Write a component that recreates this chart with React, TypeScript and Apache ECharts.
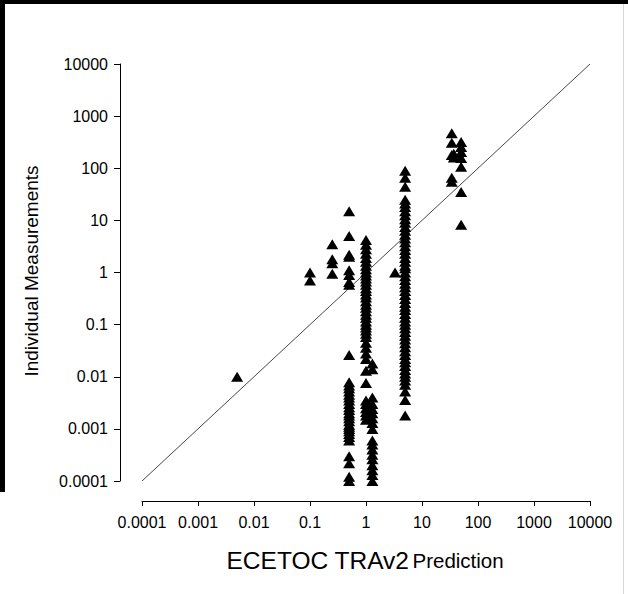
import React, { useEffect, useRef } from "react";
import * as echarts from "echarts";

// Tick labels (log decades)
const xTickLabels = ["0.0001", "0.001", "0.01", "0.1", "1", "10", "100", "1000", "10000"];
const yTickLabels = ["0.0001", "0.001", "0.01", "0.1", "1", "10", "100", "1000", "10000"];

// ECETOC TRAv2 predictions (x of each column)
const predictionGroups = [0.005, 0.1, 0.25, 0.5, 1.0, 1.3, 3.3, 5.0, 34, 37, 50];

// Individual measurements for each prediction group
const measurementGroups: number[][] = [
  [0.01],
  [1.0, 0.7],
  [3.5, 1.8, 1.5, 0.95],
  [15, 5, 2.2, 2.0, 1.1, 0.9, 0.66, 0.58,
    0.026, 0.0078, 0.0068, 0.006, 0.0052, 0.0045, 0.004, 0.0035, 0.003, 0.0026, 0.0023, 0.002,
    0.0018, 0.0016, 0.0014, 0.0012, 0.0011, 0.001, 0.0009, 0.0008, 0.0007, 0.0006,
    0.0003, 0.00022, 0.00012, 0.0001],
  [4.2, 3.4, 2.8, 2.3, 1.9, 1.6, 1.35, 1.15, 1.0, 0.88, 0.77, 0.67, 0.58, 0.5, 0.44, 0.38,
    0.33, 0.28, 0.24, 0.21, 0.18, 0.155, 0.135, 0.115, 0.1, 0.088, 0.077, 0.067, 0.058,
    0.045, 0.036, 0.028, 0.022, 0.013, 0.0076, 0.0035, 0.003, 0.0025, 0.0021, 0.0018, 0.0015],
  [0.018, 0.014, 0.004, 0.003, 0.0024, 0.002, 0.0016, 0.0013, 0.001,
    0.0006, 0.0005, 0.0004, 0.00032, 0.00026, 0.0002, 0.00016, 0.00013, 0.0001],
  [1.0],
  [90, 66, 44,
    25, 21, 18, 15, 12.5, 10.5, 9, 7.5, 6.3, 5.3, 4.5, 3.8, 3.2, 2.7, 2.3, 1.9, 1.6, 1.35, 1.2,
    1.0, 0.85, 0.72, 0.61, 0.52, 0.44, 0.37, 0.31, 0.26, 0.22, 0.19, 0.16, 0.135, 0.115, 0.1,
    0.085, 0.072, 0.061, 0.052, 0.044, 0.037, 0.031, 0.026, 0.022, 0.019, 0.016, 0.0135,
    0.0115, 0.01, 0.0085, 0.007, 0.0052, 0.0036, 0.0018],
  [470, 310, 180, 66, 55],
  [190, 160],
  [320, 255, 205, 158, 107, 35, 8.2],
];

const diagonal = [
  [0.0001, 0.0001],
  [10000, 10000],
];

const FONT = "Liberation Sans, Arial, sans-serif";

export default function App() {
  const ref = useRef<HTMLDivElement>(null);

  useEffect(() => {
    document.body.style.margin = "0";
    if (!ref.current) return;
    const chart = echarts.init(ref.current, undefined, { renderer: "svg" });

    const points: number[][] = [];
    predictionGroups.forEach((x, i) => {
      measurementGroups[i].forEach((y) => points.push([x, y]));
    });

    const labelFor = (labels: string[]) => (v: number) => {
      const idx = Math.round(Math.log10(v)) + 4;
      return labels[idx] ?? "";
    };

    chart.setOption({
      animation: false,
      backgroundColor: "#ffffff",
      grid: { left: 142, right: 38, top: 64, bottom: 113, containLabel: false },
      xAxis: {
        type: "log",
        logBase: 10,
        min: 0.0001,
        max: 10000,
        interval: 1,
        offset: 20,
        splitLine: { show: false },
        axisLine: { show: true, lineStyle: { color: "#000", width: 1 } },
        axisTick: { show: true, inside: false, length: 5, lineStyle: { color: "#000" } },
        minorTick: { show: false },
        axisLabel: {
          formatter: labelFor(xTickLabels),
          color: "#000",
          fontFamily: FONT,
          fontSize: 16,
          margin: 13,
        },
      },
      yAxis: {
        type: "log",
        logBase: 10,
        min: 0.0001,
        max: 10000,
        interval: 1,
        offset: 22,
        splitLine: { show: false },
        axisLine: { show: true, lineStyle: { color: "#000", width: 1 } },
        axisTick: { show: true, inside: false, length: 6, lineStyle: { color: "#000" } },
        axisLabel: {
          formatter: labelFor(yTickLabels),
          color: "#000",
          fontFamily: FONT,
          fontSize: 16,
          margin: 12,
        },
      },
      series: [
        {
          type: "line",
          data: diagonal,
          symbol: "none",
          lineStyle: { color: "#333", width: 0.9 },
          silent: true,
          z: 1,
        },
        {
          type: "scatter",
          data: points,
          symbol: "triangle",
          symbolSize: [12, 10],
          itemStyle: { color: "#000", opacity: 1 },
          z: 2,
        },
      ],
      graphic: [
        { type: "rect", shape: { x: 0, y: 0, width: 628, height: 4 }, style: { fill: "#000" } },
        { type: "rect", shape: { x: 0, y: 0, width: 5, height: 492 }, style: { fill: "#000" } },
        {
          type: "line",
          shape: { x1: 623.5, y1: 4, x2: 623.5, y2: 594 },
          style: { stroke: "#d8d8d8", lineWidth: 1 },
        },
        {
          type: "text",
          x: 31,
          y: 271,
          rotation: Math.PI / 2,
          style: {
            text: "Individual Measurements",
            fill: "#000",
            font: `19px ${FONT}`,
            align: "center",
            verticalAlign: "middle",
          },
        },
        {
          type: "text",
          x: 365,
          y: 560,
          style: {
            text: "{a|ECETOC TRAv2} {b|Prediction}",
            align: "center",
            verticalAlign: "middle",
            rich: {
              a: { fontSize: 24.5, fontFamily: FONT, fill: "#000", color: "#000" },
              b: { fontSize: 20.5, fontFamily: FONT, fill: "#000", color: "#000" },
            },
          },
        },
      ],
    });

    return () => chart.dispose();
  }, []);

  return <div ref={ref} style={{ width: 628, height: 594 }} />;
}
